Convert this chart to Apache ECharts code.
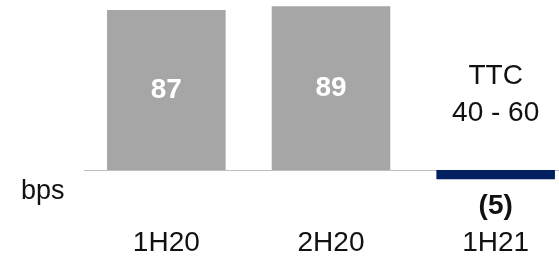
<!DOCTYPE html>
<html>
<head>
<meta charset="utf-8">
<script src="https://cdn.jsdelivr.net/npm/echarts@6/dist/echarts.min.js"></script>
<style>
  html, body { margin: 0; padding: 0; background: #fff; }
  #chart { width: 559px; height: 257px; }
</style>
</head>
<body>
<div id="chart"></div>
<script>
  // categories and values (bps)
  var periods = ['1H20', '2H20', '1H21'];
  var values = [87, 89, -5];
  var valueLabels = ['87', '89', '(5)'];
  var ttcLabel = 'TTC\n40 - 60';

  var grey = '#a6a6a6';
  var navy = '#002060';
  var ink = '#111';
  var font = '"Liberation Sans", Arial, sans-serif';

  var chart = echarts.init(document.getElementById('chart'));
  chart.setOption({
    animation: false,
    title: {
      text: 'bps',
      left: 21,
      top: 178,
      padding: 0,
      textStyle: {fontFamily: font, fontSize: 27, fontWeight: 'normal', color: ink}
    },
    grid: {left: 84, right: -19, top: 4.5, height: 184, outerBoundsMode: 'none'},
    xAxis: {
      type: 'category',
      data: periods,
      axisTick: {show: false},
      axisLine: {onZero: true, lineStyle: {color: '#bfbfbf', width: 1}},
      axisLabel: {
        margin: 41,
        fontFamily: font,
        fontSize: 28,
        color: ink
      }
    },
    yAxis: {
      type: 'value',
      min: -10,
      max: 90,
      show: false
    },
    series: [
      {
        type: 'bar',
        barWidth: '72%',
        data: values.map(function (v, i) {
          var neg = v < 0;
          return {
            value: v,
            itemStyle: {color: neg ? navy : grey},
            label: {
              show: true,
              position: neg ? 'bottom' : 'inside',
              distance: 13,
              formatter: valueLabels[i],
              fontFamily: font,
              fontSize: 28,
              fontWeight: 'bold',
              color: neg ? ink : '#fff'
            }
          };
        })
      },
      {
        type: 'scatter',
        symbolSize: 0,
        itemStyle: {opacity: 1},
        data: [[2, 0]],
        label: {
          show: true,
          position: 'top',
          distance: 38,
          formatter: ttcLabel,
          fontFamily: font,
          fontSize: 28,
          lineHeight: 37,
          color: ink
        }
      }
    ]
  });
</script>
</body>
</html>
